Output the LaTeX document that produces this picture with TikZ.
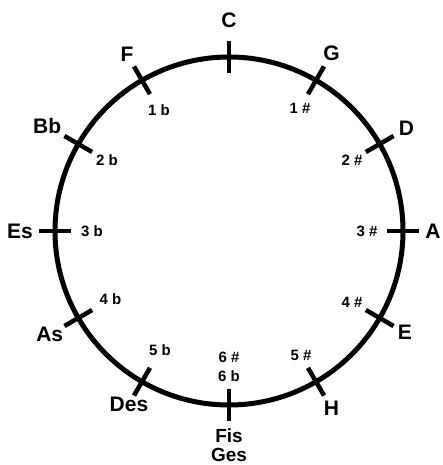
\documentclass[tikz,border=0pt]{standalone}
\usepackage{fontspec}
\setmainfont{Liberation Sans}
\usetikzlibrary{positioning, calc}

\begin{document}
\begin{tikzpicture}[x=1pt, y=1pt, line width=5pt,
        keyname/.style={font=\fontsize{21}{21}\selectfont\bfseries, inner sep=0pt},
        signs/.style={font=\fontsize{15}{19}\selectfont\bfseries, inner sep=0pt, align=center}]
        \useasboundingbox (-229,-234) rectangle (214,231);
        % Circle
        \draw (0,0) circle (174);
        % Ticks
        \foreach \a in {0,30,...,330}
            \draw [line width=4.5pt] (\a:158) -- (\a:190);
        % Key names
        \foreach \a/\r/\key in {90/211/C, 60/205/G, 30/205/D, 0/204/A, -30/203/E, -60/205/H,
                120/204/F, 150/210/Bb, 180/209/Es, -150/207/As, -120/200/Des}
            \node [keyname] (key-\key) at (\a:\r) {\key};
        \node [keyname, align=center, font=\fontsize{19}{19}\selectfont\bfseries] (key-Fis) at (-90:214) {Fis\\Ges};
        % Sharps and flats
        \foreach \a/\r/\txt [count=\i] in {60/142/1 \#, 30/142/2 \#, 0/138/3 \#, -30/142/4 \#, -60/144/5 \#,
                120/140/1 b, 150/141/2 b, 180/137/3 b, -150/137/4 b, -120/138/5 b}
            \node [signs] (acc-\i) at (\a:\r) {\txt};
        \node [signs] (acc-6) at (-90:136) {6 \#\\6 b};
    \end{tikzpicture}
\end{document}
